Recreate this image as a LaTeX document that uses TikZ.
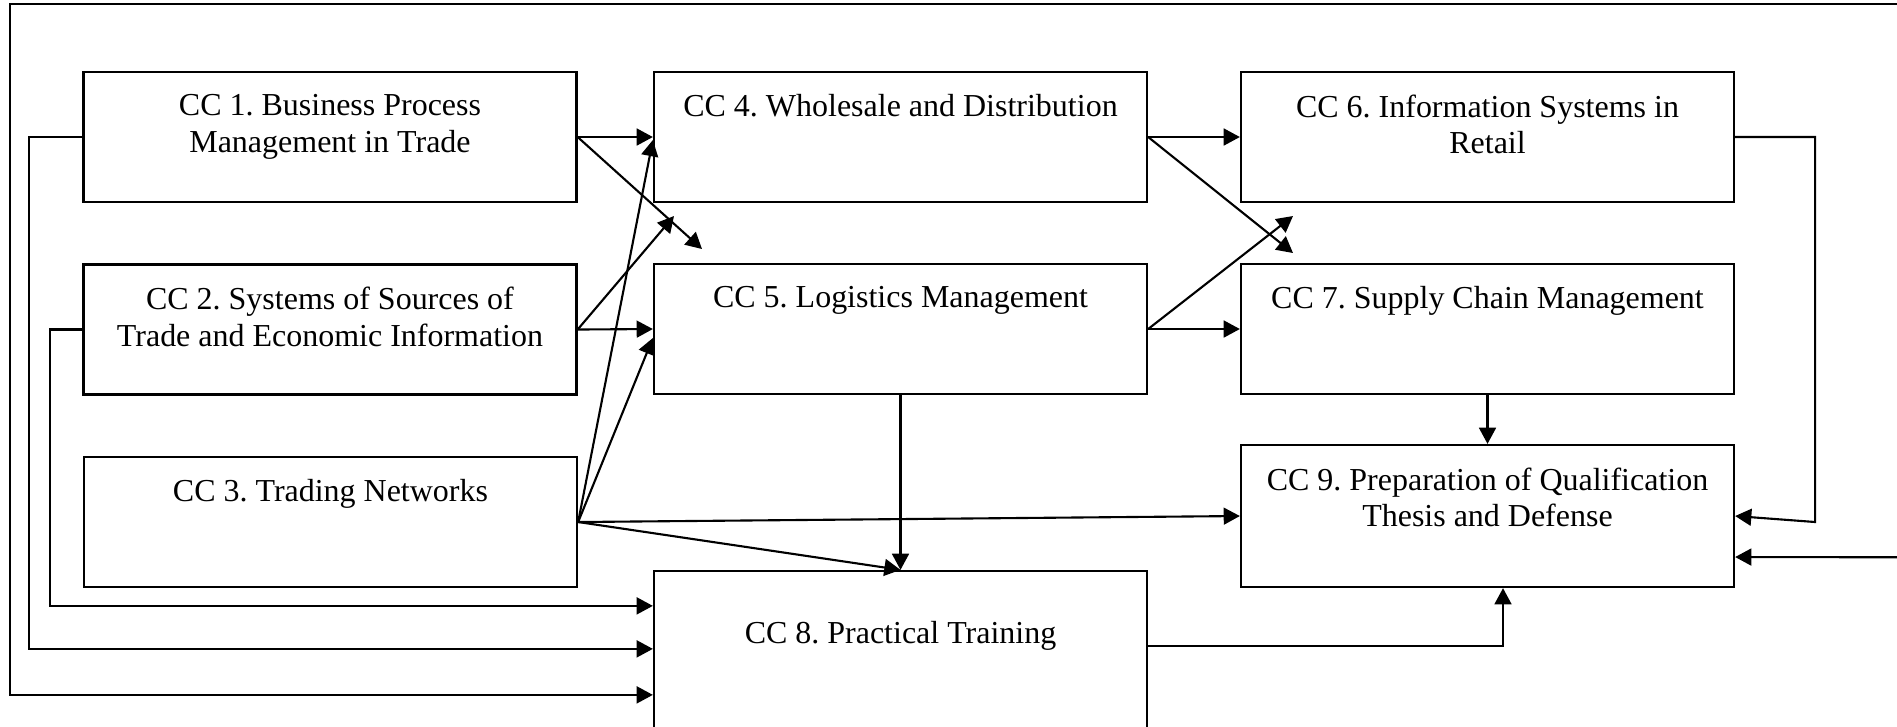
\documentclass[tikz,border=0pt]{standalone}
\usepackage{fontspec}
\setmainfont{Liberation Serif}
\usetikzlibrary{arrows.meta,calc}
\frenchspacing

\tikzset{
  box/.style={draw, line width=0.65pt, minimum width=4.93cm, minimum height=1.30cm, inner sep=0pt},
  boxtext/.style={anchor=north, inner sep=0pt, align=center, font=\fontsize{9.1}{10.4}\selectfont, yshift=-0.23cm},
  link/.style={line width=0.6pt, -{Triangle[length=4.6pt,width=4.8pt]}}
}

\begin{document}
\begin{tikzpicture}
    \useasboundingbox (0,0) rectangle (18.97,-7.26);

    % Boxes of the three columns
    \node[box] (cc1) at (3.30,-1.37) {};
    \node[box] (cc2) at (3.30,-3.295) {};
    \node[box] (cc3) at (3.305,-5.22) {};
    \node[box] (cc4) at (9.005,-1.37) {};
    \node[box] (cc5) at (9.005,-3.29) {};
    \node[box, minimum height=2.09cm] (cc8) at (9.005,-6.755) {};
    \node[box] (cc6) at (14.875,-1.37) {};
    \node[box] (cc7) at (14.875,-3.29) {};
    \node[box, minimum height=1.42cm] (cc9) at (14.875,-5.16) {};

    % Titles, set at the top of each box
    \node[boxtext] (cc1txt) at (cc1.north) {CC 1. Business Process\\Management in Trade};
    \node[boxtext] (cc2txt) at (cc2.north) {CC 2. Systems of Sources of\\Trade and Economic Information};
    \node[boxtext] (cc3txt) at (cc3.north) {CC 3. Trading Networks};
    \node[boxtext] (cc4txt) at (cc4.north) {CC 4. Wholesale and Distribution};
    \node[boxtext] (cc5txt) at (cc5.north) {CC 5. Logistics Management};
    \node[boxtext] (cc6txt) at (cc6.north) {CC 6. Information Systems in\\Retail};
    \node[boxtext] (cc7txt) at (cc7.north) {CC 7. Supply Chain Management};
    \node[boxtext] (cc8txt) at ($(cc8.north)+(0,-0.28)$) {CC 8. Practical Training};
    \node[boxtext] (cc9txt) at (cc9.north) {CC 9. Preparation of Qualification\\Thesis and Defense};

    % Free ends of the slanted arrows and of the outer loop
    \coordinate (t1) at (7.02,-2.49);
    \coordinate (t2) at (6.74,-2.16);
    \coordinate (t4) at (12.93,-2.53);
    \coordinate (t5) at (12.93,-2.16);
    \coordinate (loopout) at (19.2,-0.04);
    \coordinate (loopin) at (19.2,-5.573);

    % Arrows out of the first column
    \draw[link] (cc1.east) -- (cc4.west);
    \draw[link] (cc1.east) -- (t1);
    \draw[link] (cc2.east) -- (cc5.west);
    \draw[link] (cc2.east) -- (t2);
    \draw[link] (cc3.east) -- ($(cc4.west)+(0,-0.03)$);
    \draw[link] (cc3.east) -- ($(cc5.west)+(0,-0.09)$);
    \draw[link] (cc3.east) -- (cc9.west);
    \draw[link] (cc3.east) -- (cc8.north);

    % Arrows out of the second column
    \draw[link] (cc4.east) -- (cc6.west);
    \draw[link] (cc4.east) -- (t4);
    \draw[link] (cc5.east) -- (cc7.west);
    \draw[link] (cc5.east) -- (t5);
    \draw[link] (cc5.south) -- (cc8.north);
    \draw[link] ($(cc8.north east)+(0,-0.76)$) -| ($(cc9.south)+(0.155,0)$);

    % Arrows of the third column
    \draw[link] (cc7.south) -- (cc9.north);
    \draw[link] (cc6.east) -- ++(0.80,0) -- ++(0,-3.85) -- (cc9.east);

    % Lines running round the left side into CC 8
    \draw[link] (cc2.west) -- ++(-0.32,0) |- ($(cc8.north west)+(0,-0.36)$);
    \draw[link] (cc1.west) -- ++(-0.53,0) |- ($(cc8.north west)+(0,-0.79)$);
    \draw[link] (loopout) -- (0.10,-0.04) |- ($(cc8.north west)+(0,-1.25)$);
    \draw[link] (loopin) -- ($(cc9.east)+(0,-0.41)$);
\end{tikzpicture}
\end{document}
